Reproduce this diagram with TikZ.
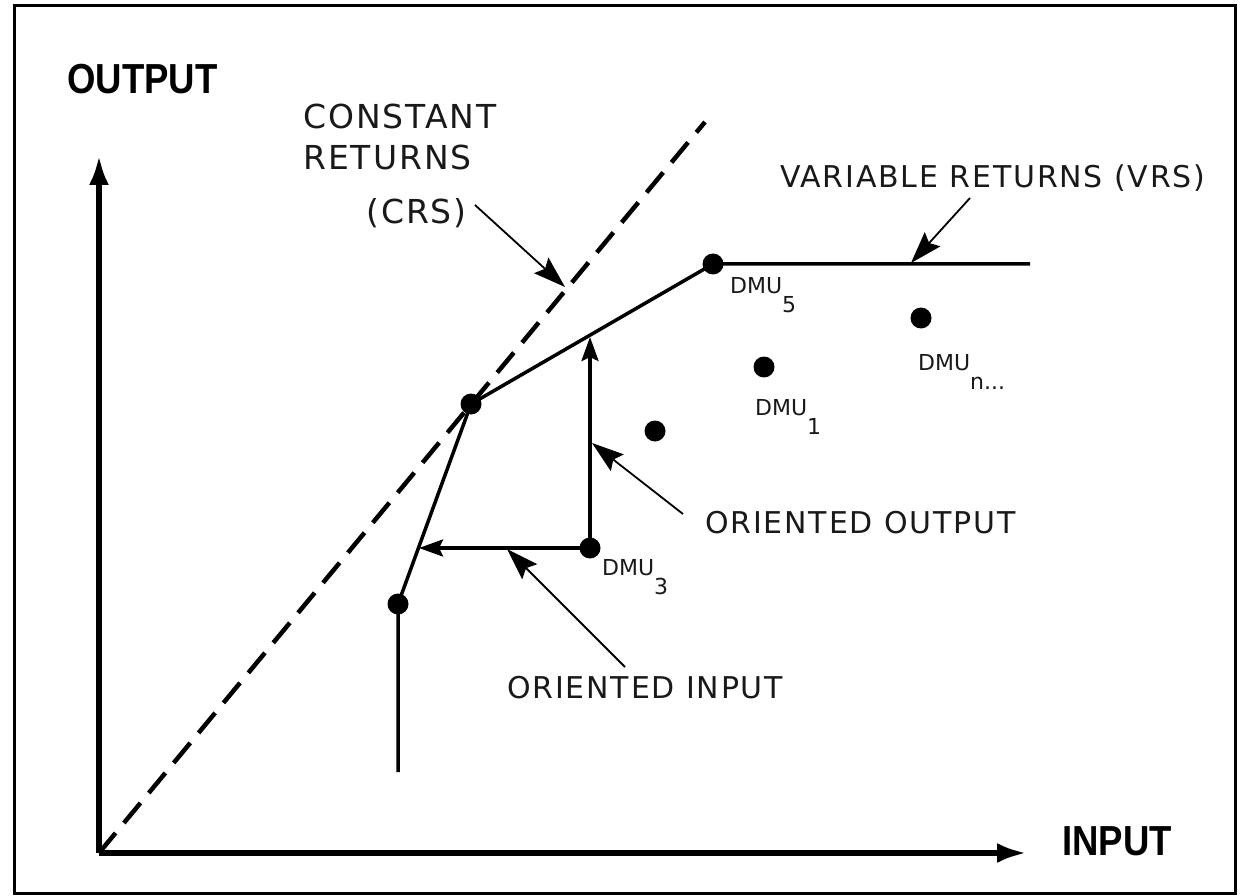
\documentclass[tikz,border=0pt]{standalone}
\usepackage{fontspec}
\usetikzlibrary{arrows.meta}
\newfontfamily\lblfont[LetterSpace=6]{DejaVu Sans}
\newfontfamily\dmufont{DejaVu Sans}
\newfontfamily\axfont{Liberation Sans}

\tikzset{
  axis/.style={line width=6pt, -{Latex[length=30pt,width=20pt]}},
  frontier/.style={line width=3.5pt},
  crsline/.style={line width=4.5pt, dash pattern=on 26pt off 13pt},
  dmu/.style={circle, fill=black, inner sep=0pt, minimum size=21pt},
  orient/.style={line width=3.5pt, -{Stealth[length=24pt,width=17pt,inset=4pt]}},
  pointer/.style={line width=1.8pt, -{Stealth[length=32pt,width=21pt,inset=5pt]}},
  lbl/.style={inner sep=0pt, anchor=base west, text=black!90, font=\lblfont\fontsize{30}{36}\selectfont},
  biglbl/.style={lbl, font=\lblfont\fontsize{33}{40}\selectfont},
  dmulbl/.style={inner sep=0pt, anchor=base west, text=black!90, font=\dmufont\fontsize{22}{26}\selectfont},
  axlbl/.style={inner sep=0pt, anchor=base west, font=\axfont\bfseries\fontsize{42}{50}\selectfont},
}

\begin{document}
\begin{tikzpicture}[x=1pt, y=-1pt]
    \useasboundingbox (0,0) rectangle (1248,896);
    \draw[line width=3pt] (14,6) rectangle (1235,893);

    \coordinate (O) at (99,853);
    \coordinate (yTip) at (99,155);
    \coordinate (xTip) at (1027,853);

    \draw[axis] (O) -- (yTip);
    \draw[axis] (O) -- (xTip);

    \coordinate (crsTop) at (705,122);
    \draw[crsline] (O) -- (crsTop);

    \coordinate (vBase) at (398,772);
    \coordinate (vEnd) at (1030,264);

    \node[dmu] (d0) at (398,604) {};
    \node[dmu] (d2) at (471,404) {};
    \node[dmu] (d5) at (713,264) {};
    \node[dmu] (d1) at (764,367) {};
    \node[dmu] (dn) at (921,318) {};
    \node[dmu] (d4) at (655,431) {};
    \node[dmu] (d3) at (590,548) {};

    \draw[frontier] (vBase) -- (d0.center) -- (d2.center) -- (d5.center) -- (vEnd);

    \coordinate (inTip) at (419,548);
    \coordinate (outTip) at (590,337);
    \draw[orient] (d3.center) -- (inTip);
    \draw[orient] (d3.center) -- (outTip);

    \node[axlbl] (ylab) at (67,94) {\scalebox{0.87}[1]{OUTPUT}};
    \node[axlbl] (xlab) at (1062,855) {\scalebox{0.87}[1]{INPUT}};

    \node[biglbl] (crs1) at (303,129) {CONSTANT};
    \node[biglbl] (crs2) at (303,170) {RETURNS};
    \node[biglbl] (crs3) at (366,224) {(CRS)};
    \node[lbl] (vrs) at (780,188) {VARIABLE RETURNS (VRS)};
    \node[lbl] (oout) at (705,533) {ORIENTED OUTPUT};
    \node[lbl] (oin) at (507,698) {ORIENTED INPUT};

    \node[dmulbl] (l5) at (730,294) {DMU\raisebox{-19pt}{5}};
    \node[dmulbl] (l1) at (755,415) {DMU\raisebox{-19pt}{1}};
    \node[dmulbl] (ln) at (918,370) {DMU\raisebox{-19pt}{n...}};
    \node[dmulbl] (l3) at (602,575) {DMU\raisebox{-19pt}{3}};

    \coordinate (crsTail) at (475,205);
    \coordinate (crsTip) at (565,287);
    \coordinate (vrsTail) at (970,198);
    \coordinate (vrsTip) at (911,263);
    \coordinate (outTail) at (683,514);
    \coordinate (outPt) at (592,443);
    \coordinate (inTail) at (625,667);
    \coordinate (inPt) at (507,549);

    \draw[pointer] (crsTail) -- (crsTip);
    \draw[pointer] (vrsTail) -- (vrsTip);
    \draw[pointer] (outTail) -- (outPt);
    \draw[pointer] (inTail) -- (inPt);
  \end{tikzpicture}
\end{document}
